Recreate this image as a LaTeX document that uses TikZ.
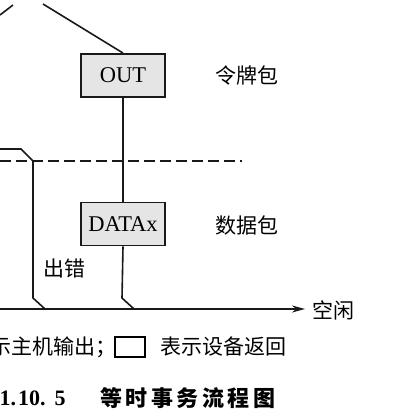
\documentclass[tikz,border=0pt]{standalone}
\usepackage{fontspec}
\setmainfont{Liberation Serif}
\newfontfamily\cjk{Noto Sans CJK SC}
\usetikzlibrary{arrows.meta}
\tikzset{
  ln/.style={line width=1.6pt, black!90},
  pkt/.style={draw=black!90, line width=1.9pt, fill=black!10, minimum width=84pt, minimum height=43pt, inner sep=0pt, font=\fontsize{22.5}{22.5}\selectfont},
  lbl/.style={inner sep=0pt, anchor=west, font=\cjk\fontsize{21}{21}\selectfont},
  captext/.style={inner sep=0pt, anchor=west, font=\bfseries\fontsize{22}{22}\selectfont},
}
\begin{document}
\begin{tikzpicture}[x=1pt,y=-1pt]
\clip (0,0) rectangle (406,420);
\fill[white] (0,0) rectangle (406,420);
% packets
\node[pkt] (out) at (123,75.5) {OUT};
\node[pkt] (data) at (123,224) {DATAx};
% labels
\node[lbl] (tok) at (215,76) {令牌包};
\node[lbl] (dat) at (215,225) {数据包};
\node[lbl] (err) at (43,268) {出错};
\node[lbl] (idle) at (312,310) {空闲};
% coordinates
\coordinate (a0) at (43,4);
\coordinate (b0) at (0,15);
\coordinate (b1) at (13,5);
\coordinate (l0) at (0,149);
\coordinate (l1) at (21,149);
\coordinate (l2) at (33,161);
\coordinate (l3) at (33,298);
\coordinate (l4) at (45,309);
\coordinate (r3) at (122,298);
\coordinate (r4) at (134,309);
\coordinate (ax0) at (0,309);
\coordinate (ax1) at (305,309);
\coordinate (d0) at (0,161);
\coordinate (d1) at (242,161);
% connectors
\draw[ln] (b0) -- (b1);
\draw[ln] (a0) -- (out.north);
\draw[ln] (out.south) -- (data.north);
\draw[ln] (data.south) -- (r3) -- (r4);
\draw[ln] (l0) -- (l1) -- (l2) -- (l3) -- (l4);
\draw[ln, -{Stealth[length=13pt,width=7pt]}] (ax0) -- (ax1);
\draw[ln, dash pattern=on 11pt off 5pt] (d0) -- (d1);
% legend
\node[lbl] (leg1) at (-31,347) {表示主机输出；};
\node[draw=black, line width=2pt, minimum width=30pt, minimum height=20pt, inner sep=0pt] (legbox) at (130,346.5) {};
\node[lbl] (leg2) at (160,347) {表示设备返回};
% caption
\node[captext] (num) at (-22.5,398) {\cjk 图\rmfamily\bfseries 1.\hspace{2pt}10.\hspace{9pt}5};
\node[captext] (title) at (100,398) {\cjk\bfseries 等\hspace{3.5pt}时\hspace{3.5pt}事\hspace{3.5pt}务\hspace{3.5pt}流\hspace{3.5pt}程\hspace{3.5pt}图};
\end{tikzpicture}
\end{document}
